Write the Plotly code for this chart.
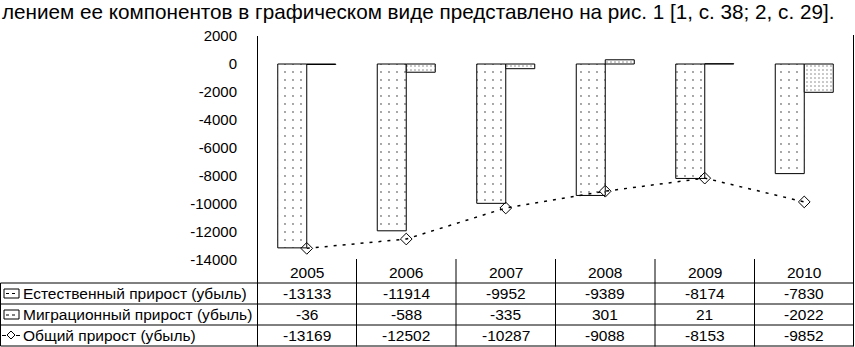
import plotly.graph_objects as go

years = ["2005", "2006", "2007", "2008", "2009", "2010"]
natural = [-13133, -11914, -9952, -9389, -8174, -7830]
migration = [-36, -588, -335, 301, 21, -2022]
total = [-13169, -12502, -10287, -9088, -8153, -9852]
series_names = ["Естественный прирост (убыль)", "Миграционный прирост (убыль)", "Общий прирост (убыль)"]
y_ticks = [2000, 0, -2000, -4000, -6000, -8000, -10000, -12000, -14000]
caption = "лением ее компонентов в графическом виде представлено на рис. 1 [1, с. 38; 2, с. 29]."

W, H = 855, 347
L, R, T, B = 257, 1, 36, 87
PW = W - L - R
PH = H - T - B
FONT = "Liberation Sans, Arial, sans-serif"


def px(x):
    return (x - L) / PW


def py(y):
    return (H - B - y) / PH


fig = go.Figure()
fig.add_trace(go.Bar(
    x=years, y=natural, name=series_names[0],
    marker=dict(color="white", line=dict(color="black", width=1),
                pattern=dict(shape=".", fgcolor="black", bgcolor="white", size=8, solidity=0.04)),
))
fig.add_trace(go.Bar(
    x=years, y=migration, name=series_names[1],
    marker=dict(color="white", line=dict(color="black", width=1),
                pattern=dict(shape=".", fgcolor="black", bgcolor="white", size=4, solidity=0.12)),
))
fig.add_trace(go.Scatter(
    x=years, y=total, name=series_names[2], mode="lines+markers",
    line=dict(color="black", width=1.5, dash="3px,6px"),
    marker=dict(symbol="diamond-open", size=9, color="black", line=dict(color="black", width=1)),
))

shapes = []
line_style = dict(color="black", width=1)
shapes.append(dict(type="line", xref="paper", yref="paper", x0=px(257.5), x1=px(257.5), y0=py(36), y1=py(346.5), line=line_style))
shapes.append(dict(type="line", xref="paper", yref="paper", x0=px(853.5), x1=px(853.5), y0=py(35), y1=py(346.5), line=line_style))
for k in range(1, len(years)):
    xx = k / len(years)
    shapes.append(dict(type="line", xref="paper", yref="paper", x0=xx, x1=xx, y0=py(259), y1=py(346.5), line=line_style))
for yy in [283, 304, 325, 346]:
    shapes.append(dict(type="line", xref="paper", yref="paper", x0=px(0.5), x1=px(853.5), y0=py(yy), y1=py(yy), line=line_style))
shapes.append(dict(type="line", xref="paper", yref="paper", x0=px(0.5), x1=px(0.5), y0=py(283), y1=py(346), line=line_style))

row_centers = [293.5, 314.5, 335.5]
# legend keys
shapes.append(dict(type="rect", xref="paper", yref="paper", x0=px(4), x1=px(19), y0=py(298), y1=py(289),
                   line=dict(color="black", width=1), fillcolor="white"))
shapes.append(dict(type="line", xref="paper", yref="paper", x0=px(6), x1=px(17), y0=py(293.5), y1=py(293.5),
                   line=dict(color="black", width=1, dash="dot")))
shapes.append(dict(type="rect", xref="paper", yref="paper", x0=px(4), x1=px(19), y0=py(319), y1=py(310),
                   line=dict(color="black", width=1), fillcolor="white"))
shapes.append(dict(type="line", xref="paper", yref="paper", x0=px(6), x1=px(17), y0=py(315), y1=py(315),
                   line=dict(color="black", width=1, dash="dot")))
shapes.append(dict(type="line", xref="paper", yref="paper", x0=px(2), x1=px(6), y0=py(335.5), y1=py(335.5), line=line_style))
shapes.append(dict(type="line", xref="paper", yref="paper", x0=px(16), x1=px(20), y0=py(335.5), y1=py(335.5), line=line_style))
shapes.append(dict(type="path", xref="paper", yref="paper",
                   path=f"M {px(11)},{py(331)} L {px(15)},{py(335)} L {px(11)},{py(339)} L {px(7)},{py(335)} Z",
                   line=dict(color="black", width=1), fillcolor="white"))

annotations = []
annotations.append(dict(text=caption, xref="paper", yref="paper", x=px(0), y=py(12), xanchor="left", yanchor="middle",
                        showarrow=False, font=dict(family=FONT, size=20.7, color="black")))
for i, yr in enumerate(years):
    annotations.append(dict(text=yr, xref="x", yref="paper", x=i, y=py(272), xanchor="center", yanchor="middle",
                            showarrow=False, font=dict(family=FONT, size=15.5, color="black")))
for name, vals, rc in zip(series_names, [natural, migration, total], row_centers):
    annotations.append(dict(text=name, xref="paper", yref="paper", x=px(21), y=py(rc), xanchor="left", yanchor="middle",
                            showarrow=False, font=dict(family=FONT, size=15.5, color="black")))
    for i, v in enumerate(vals):
        annotations.append(dict(text=str(v), xref="x", yref="paper", x=i, y=py(rc), xanchor="center", yanchor="middle",
                                showarrow=False, font=dict(family=FONT, size=15.5, color="black")))

fig.update_layout(
    width=W, height=H,
    margin=dict(l=L, r=R, t=T, b=B, pad=0),
    paper_bgcolor="white", plot_bgcolor="white",
    barmode="group", bargap=0.417, bargroupgap=0,
    showlegend=False,
    shapes=shapes, annotations=annotations,
    font=dict(family=FONT, size=14, color="black"),
    xaxis=dict(type="category", range=[-0.5, len(years) - 0.5], autorange=False,
               showticklabels=False, showgrid=False, showline=False, zeroline=False, ticks=""),
    yaxis=dict(range=[-14000, 2000], tickvals=y_ticks, ticktext=[str(v) for v in y_ticks],
               showgrid=False, zeroline=False, showline=False, ticks="", ticklabelstandoff=19,
               tickfont=dict(family=FONT, size=15, color="black")),
)

fig.write_html("out.html", config={"displayModeBar": False},
               post_script="document.body.style.margin='0px';document.body.style.overflow='hidden';")
